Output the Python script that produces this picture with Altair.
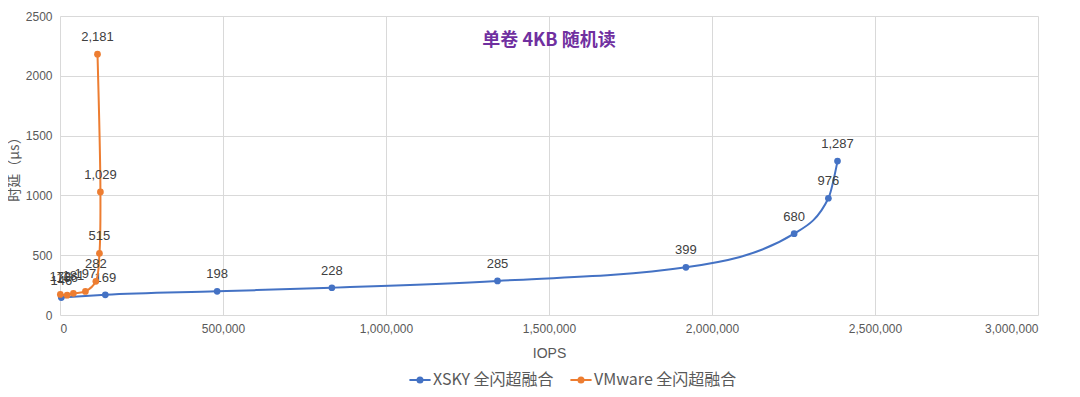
import altair as alt
import pandas as pd

series_names = ["XSKY 全闪超融合", "VMware 全闪超融合"]
xsky_iops = [4000, 139000, 482000, 834000, 1342000, 1920000, 2252000, 2357000, 2385000]
xsky_lat = [146, 169, 198, 228, 285, 399, 680, 976, 1287]
vm_iops = [1000, 22000, 41000, 78000, 110000, 121000, 124000, 115000]
vm_lat = [172, 166, 181, 197, 282, 515, 1029, 2181]

rows = []
for i, (x, y) in enumerate(zip(xsky_iops, xsky_lat)):
    rows.append({"series": series_names[0], "iops": x, "lat": y, "idx": i})
for i, (x, y) in enumerate(zip(vm_iops, vm_lat)):
    rows.append({"series": series_names[1], "iops": x, "lat": y, "idx": i})
df = pd.DataFrame(rows)

FONT = "Liberation Sans"
CJK = "Noto Sans CJK SC"
colors = ["#4472C4", "#ED7D31"]

xenc = alt.X("iops:Q", scale=alt.Scale(domain=[0, 3000000], nice=False),
             axis=alt.Axis(title="IOPS", format=",d", values=[0, 500000, 1000000, 1500000, 2000000, 2500000, 3000000],
                           grid=True, domain=False, ticks=False, labelPadding=8,
                           titlePadding=12, titleFontSize=14, titleFontWeight="normal",
                           titleColor="#595959", titleFont=FONT, labelFontSize=12, labelColor="#595959", labelFont=FONT))
yenc = alt.Y("lat:Q", scale=alt.Scale(domain=[0, 2500], nice=False),
             axis=alt.Axis(title="时延（µs）", format="d", values=[0, 500, 1000, 1500, 2000, 2500],
                           grid=True, domain=False, ticks=False, labelPadding=8,
                           titlePadding=4, titleFontSize=14, titleFontWeight="normal",
                           titleColor="#595959", titleFont=CJK, labelFontSize=12, labelColor="#595959", labelFont=FONT))
cenc = alt.Color("series:N", scale=alt.Scale(domain=series_names, range=colors),
                 legend=alt.Legend(title=None, orient="none", direction="horizontal",
                                   legendX=352, legendY=356, labelFont=CJK, labelFontSize=16,
                                   labelColor="#595959",
                                   symbolType="M-1.6,0L1.6,0M-0.38,0A0.38,0.38,0,1,1,0.38,0A0.38,0.38,0,1,1,-0.38,0",
                                   symbolSize=175, symbolStrokeWidth=2, columnPadding=12, labelOffset=5))

def series_layer(name, interp):
    d = df[df["series"] == name]
    base = alt.Chart(d).encode(x=xenc, y=yenc, color=cenc, order=alt.Order("idx:Q"))
    line = base.mark_line(strokeWidth=2, interpolate=interp)
    pts = base.mark_point(filled=True, size=45, opacity=1).encode(
        fill=alt.Fill("series:N", scale=alt.Scale(domain=series_names, range=colors), legend=None))
    txt = alt.Chart(d).mark_text(dy=-17, fontSize=13, color="#404040", font=FONT).encode(
        x=xenc, y=yenc, text=alt.Text("lat:Q", format=","))
    return [line, pts, txt]

layers = series_layer(series_names[0], "monotone") + series_layer(series_names[1], "catmull-rom")

chart = alt.layer(*layers).properties(
    width=978, height=299,
    title=alt.Title("单卷 4KB 随机读", anchor="middle", color="#7030A0", font=CJK, fontSize=18,
                    fontWeight="bold", dy=44),
    autosize=alt.AutoSizeParams(type="none"),
    padding={"left": 52, "top": 8, "right": 30, "bottom": 74},
    background="white",
).configure_view(stroke=None).configure_axis(gridColor="#D9D9D9", gridWidth=1)

chart.save("out.html", embed_options={"renderer": "svg", "actions": False})
